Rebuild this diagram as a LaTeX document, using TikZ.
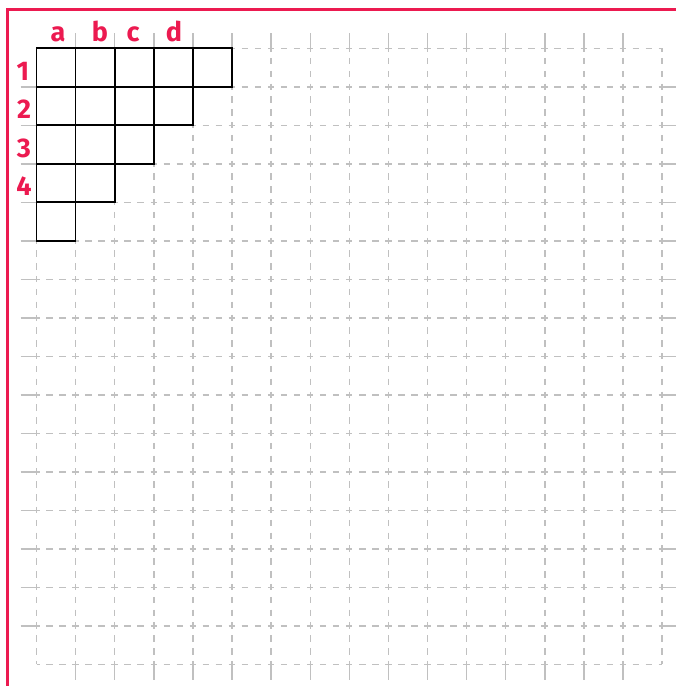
\documentclass[tikz,border=0pt]{standalone}
\usepackage{fontspec}
\setmainfont{Fira Sans}
\definecolor{redink}{RGB}{236,26,80}
\definecolor{gridgray}{RGB}{192,192,192}
\begin{document}
\begin{tikzpicture}[x=1pt,y=-1pt,
  hdash/.style={draw=gridgray,line width=1.4pt,dash pattern=on 6.5pt off 6.53pt,dash phase=3.25pt},
  vdash/.style={draw=gridgray,line width=1.4pt,dash pattern=on 6.4pt off 6.43pt,dash phase=3.2pt},
  gtick/.style={draw=gridgray,line width=1.4pt},
  cellbox/.style={draw=black,line width=1.7pt},
  redline/.style={draw=redink,line width=2.7pt},
  lbl/.style={text=redink,font=\fontsize{27}{27}\selectfont\bfseries,inner sep=0pt,anchor=base}]
\useasboundingbox (0,0) rectangle (676,686);
\fill[white] (0,0) rectangle (676,686);
\def\gx{36.5}\def\gy{48.3}\def\cw{39.1}\def\ch{38.5}
% dashed grid
\foreach \j in {0,...,16}
  \draw[hdash] (\gx,\gy+\j*\ch) -- (\gx+16*\cw,\gy+\j*\ch);
\foreach \k in {0,...,16}
  \draw[vdash] (\gx+\k*\cw,\gy) -- (\gx+\k*\cw,\gy+16*\ch);
% outer ticks
\foreach \k in {1,...,15}{
  \draw[gtick] (\gx+\k*\cw,33) -- (\gx+\k*\cw,\gy);
  \draw[gtick] (\gx+\k*\cw,\gy+16*\ch) -- ++(0,16);
  \draw[gtick] (20.5,\gy+\k*\ch) -- (\gx,\gy+\k*\ch);
  \draw[gtick] (\gx+16*\cw,\gy+\k*\ch) -- (680,\gy+\k*\ch);
}
% young diagram cells
\foreach \r/\n in {0/5,1/4,2/3,3/2,4/1}
  \foreach \c in {1,...,\n}
    \draw[cellbox] (\gx+\c*\cw-\cw,\gy+\r*\ch) rectangle ++(\cw,\ch);
% red margin
\draw[redline] (7.5,690) -- (7.5,9.3) -- (680,9.3);
% labels
\node[lbl] (la) at (58,41.5) {a};
\node[lbl] (lb) at (100,41.5) {b};
\node[lbl] (lc) at (133,41.5) {c};
\node[lbl] (ld) at (174,41.5) {d};
\node[lbl] (r1) at (23,\gy+\ch-6.5) {1};
\node[lbl] (r2) at (24,\gy+2*\ch-6.5) {2};
\node[lbl] (r3) at (24,\gy+3*\ch-6.5) {3};
\node[lbl] (r4) at (24,\gy+4*\ch-6.5) {4};
\end{tikzpicture}
\end{document}
